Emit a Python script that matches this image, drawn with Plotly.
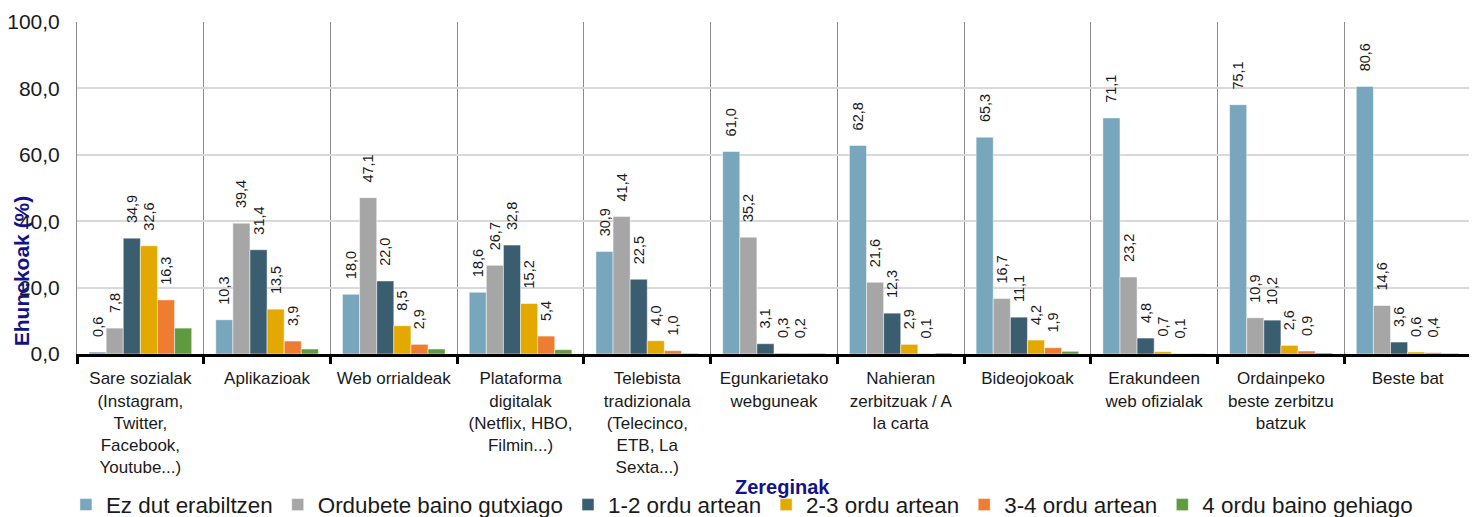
import plotly.graph_objects as go

categories = [
    "Sare sozialak<br>(Instagram,<br>Twitter,<br>Facebook,<br>Youtube...)",
    "Aplikazioak",
    "Web orrialdeak",
    "Plataforma<br>digitalak<br>(Netflix, HBO,<br>Filmin...)",
    "Telebista<br>tradizionala<br>(Telecinco,<br>ETB, La<br>Sexta...)",
    "Egunkarietako<br>webguneak",
    "Nahieran<br>zerbitzuak / A<br>la carta",
    "Bideojokoak",
    "Erakundeen<br>web ofizialak",
    "Ordainpeko<br>beste zerbitzu<br>batzuk",
    "Beste bat",
]

ez_dut = [0.6, 10.3, 18.0, 18.6, 30.9, 61.0, 62.8, 65.3, 71.1, 75.1, 80.6]
ordubete = [7.8, 39.4, 47.1, 26.7, 41.4, 35.2, 21.6, 16.7, 23.2, 10.9, 14.6]
ordu_1_2 = [34.9, 31.4, 22.0, 32.8, 22.5, 3.1, 12.3, 11.1, 4.8, 10.2, 3.6]
ordu_2_3 = [32.6, 13.5, 8.5, 15.2, 4.0, 0.3, 2.9, 4.2, 0.7, 2.6, 0.6]
ordu_3_4 = [16.3, 3.9, 2.9, 5.4, 1.0, 0.2, 0.1, 1.9, 0.1, 0.9, 0.4]
ordu_4_plus = [7.8, 1.5, 1.5, 1.3, 0.2, 0.2, 0.3, 0.8, 0.1, 0.3, 0.2]

series_names = ["Ez dut erabiltzen", "Ordubete baino gutxiago", "1-2 ordu artean",
                "2-3 ordu artean", "3-4 ordu artean", "4 ordu baino gehiago"]
series_values = [ez_dut, ordubete, ordu_1_2, ordu_2_3, ordu_3_4, ordu_4_plus]
colors = ["#78A6BD", "#A6A6A6", "#3B5D70", "#E3A900", "#EE7D31", "#5F9A3F"]
show_labels = [True, True, True, True, True, False]

FONT = "Liberation Sans, Arial, sans-serif"
NAVY = "#12128A"

fig = go.Figure()
pad = "\u00a0\u00a0\u00a0"
for name, vals, col, lab in zip(series_names, series_values, colors, show_labels):
    fig.add_trace(go.Bar(
        name=name, x=categories, y=vals,
        marker=dict(color=col, line=dict(color="rgba(255,255,255,0.6)", width=0.8)),
        texttemplate=(pad + "%{y:.1f}") if lab else "",
        textposition="outside", textangle=-90,
        textfont=dict(size=14.5, color="#1a1a1a", family=FONT),
        constraintext="none", cliponaxis=False,
    ))

# page body has an 8px margin, so the figure is sized/offset to fit the 1477x517 window
fig.update_layout(
    width=1469, height=509,
    margin=dict(l=69, r=6, t=14, b=163, autoexpand=False),
    paper_bgcolor="white", plot_bgcolor="white",
    barmode="group", bargap=0.19, bargroupgap=0,
    separators=",.",
    font=dict(family=FONT, color="#1a1a1a"),
    showlegend=True,
    legend=dict(orientation="h", x=0.477, xanchor="center", y=-0.455, yanchor="middle",
                font=dict(size=22.4, family=FONT, color="#1a1a1a"),
                itemwidth=30, tracegroupgap=0, bgcolor="rgba(0,0,0,0)"),
)

fig.update_xaxes(
    type="category", tickson="boundaries", automargin=False, tickangle=0,
    ticks="outside", ticklen=7, tickwidth=3, tickcolor="black",
    showline=True, linecolor="black", linewidth=3,
    showgrid=True, gridcolor="#8c8c8c", gridwidth=1,
    ticklabelstandoff=7,
    tickfont=dict(size=17, family=FONT, color="#1a1a1a"),
)
fig.update_yaxes(
    range=[0, 100], dtick=20, tickformat=".1f", automargin=False,
    showgrid=True, gridcolor="#D9D9D9", gridwidth=2,
    zeroline=False, showline=True, linecolor="#8c8c8c", linewidth=1,
    ticks="", ticklabelstandoff=12,
    tickfont=dict(size=21, family=FONT, color="#1a1a1a"),
)

fig.add_annotation(text="<b>Ehunekoak (%)</b>", textangle=-90,
                   xref="paper", yref="paper", x=-0.04, y=0.25,
                   xanchor="center", yanchor="middle", showarrow=False,
                   font=dict(size=21, color=NAVY, family=FONT))
fig.add_annotation(text="<b>Zereginak</b>",
                   xref="paper", yref="paper", x=0.506, y=-0.40,
                   xanchor="center", yanchor="middle", showarrow=False,
                   font=dict(size=20, color=NAVY, family=FONT))

fig.write_html("out.html")
